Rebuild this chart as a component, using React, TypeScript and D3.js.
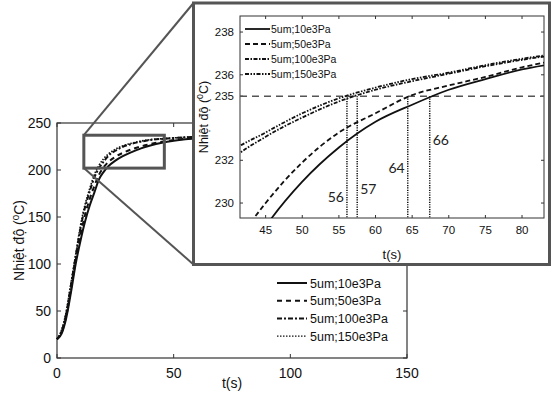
import React from "react";
import * as d3 from "d3";

// time axis (s) shared by all four curves
const times = [0, 2, 4, 6, 8, 10, 12, 14, 16, 18, 20, 22, 25, 28, 32, 36, 40, 45, 50, 55, 60, 65, 70, 75, 80, 85, 100, 120, 150];

// temperature (°C) per pressure case
const temp10e3 = [20, 26, 43, 70, 100, 124, 145, 162, 176, 190, 198, 204, 210, 214.5, 219, 223, 226, 228.9, 231.0, 232.6, 233.8, 234.6, 235.3, 235.8, 236.25, 236.55, 237.2, 237.8, 238.3];
const temp50e3 = [20, 27, 45, 74, 104, 130, 152, 169, 183, 195, 203, 208.5, 214, 218, 222, 225.2, 227.6, 230.0, 231.9, 233.3, 234.2, 235.05, 235.5, 235.9, 236.35, 236.7, 237.4, 238, 238.4];
const temp100e3 = [20, 29, 48, 78, 108, 137, 160, 177, 192, 202, 209, 215, 220.5, 224.5, 227.8, 230.2, 231.9, 233.1, 234.0, 234.75, 235.3, 235.7, 236.05, 236.4, 236.7, 236.95, 237.6, 238.1, 238.5];
const temp150e3 = [20, 30, 50, 80, 110, 140, 163, 180, 195, 205, 212, 217, 222, 225.5, 228.5, 230.8, 232.3, 233.3, 234.2, 234.9, 235.4, 235.8, 236.1, 236.45, 236.75, 237.0, 237.7, 238.2, 238.6];

const seriesNames = ["5um;10e3Pa", "5um;50e3Pa", "5um;100e3Pa", "5um;150e3Pa"];
const seriesValues = [temp10e3, temp50e3, temp100e3, temp150e3];

const mainXTicks = [0, 50, 100, 150];
const mainYTicks = [0, 50, 100, 150, 200, 250];
const insetXTicks = [45, 50, 55, 60, 65, 70, 75, 80];
const insetYTicks = [230, 232, 235, 236, 238];

// 235 °C crossing times and their annotations
const targetTemp = 235;
const crossTimes = [56.1, 57.5, 64.4, 67.4];
const crossLabels = ["56", "57", "64", "66"];
const crossLabelTemps = [230.05, 230.4, 231.4, 232.7];
const crossLabelSide = ["left", "right", "left", "right"];

// zoom box drawn on the main plot
const zoomBoxTime = [11.5, 46];
const zoomBoxTemp = [202, 237];

const FONT = "'Liberation Sans', Arial, sans-serif";
const AXIS = "#333";
const FRAME = "#555";

const mainDash = ["none", "5,4", "5,2,2,2", "1.5,1.5"];
const insetDash = ["none", "5,3", "4,1.5,1.5,1.5", "4,1.5,1.5,1.5,1.5,1.5"];

const Superscript = () => (
  <>
    Nhiệt độ (<tspan baselineShift="super" fontSize="0.7em">0</tspan>C)
  </>
);

export default function App() {
  const x = d3.scaleLinear().domain([0, 150]).range([57, 407]);
  const y = d3.scaleLinear().domain([0, 250]).range([358, 123]);

  const ix = d3.scaleLinear().domain([41.5, 83]).range([240, 544]);
  const iy = d3.scaleLinear().domain([229.3, 238.75]).range([218, 16]);

  const mainLine = (vals: number[]) =>
    d3.line<number>().x((_, i) => x(times[i])).y(d => y(d)).curve(d3.curveMonotoneX)(vals) || "";
  const insetLine = (vals: number[]) =>
    d3.line<number>().x((_, i) => ix(times[i])).y(d => iy(d)).curve(d3.curveMonotoneX)(vals) || "";

  const tick = 4;
  const frame = { x: 193.5, y: 3, w: 356, h: 261.5 };

  return (
    <svg width={552} height={393} style={{ position: "absolute", left: 0, top: 0, background: "#fff" }} fontFamily={FONT}>
      <defs>
        <clipPath id="insetClip">
          <rect x={ix.range()[0]} y={iy.range()[1]} width={ix.range()[1] - ix.range()[0]} height={iy.range()[0] - iy.range()[1]} />
        </clipPath>
      </defs>

      {/* main axes */}
      <rect x={x(0)} y={y(250)} width={x(150) - x(0)} height={y(0) - y(250)} fill="none" stroke={AXIS} strokeWidth={1.2} />
      {mainXTicks.map(t => (
        <g key={"mx" + t}>
          <line x1={x(t)} x2={x(t)} y1={y(0)} y2={y(0) - tick} stroke={AXIS} />
          <line x1={x(t)} x2={x(t)} y1={y(250)} y2={y(250) + tick} stroke={AXIS} />
          <text x={x(t)} y={378} fontSize={14} textAnchor="middle" fill="#111">{t}</text>
        </g>
      ))}
      {mainYTicks.map(v => (
        <g key={"my" + v}>
          <line x1={x(0)} x2={x(0) + tick} y1={y(v)} y2={y(v)} stroke={AXIS} />
          <line x1={x(150)} x2={x(150) - tick} y1={y(v)} y2={y(v)} stroke={AXIS} />
          <text x={51} y={y(v) + 5} fontSize={14} textAnchor="end" fill="#111">{v}</text>
        </g>
      ))}
      <text x={(x(0) + x(150)) / 2} y={388} fontSize={14} textAnchor="middle" fill="#111">t(s)</text>
      <text transform={`translate(24,${(y(0) + y(250)) / 2}) rotate(-90)`} fontSize={14} textAnchor="middle" fill="#111">
        <Superscript />
      </text>

      {seriesValues.map((vals, i) => (
        <path key={"m" + i} d={mainLine(vals)} fill="none" stroke="#111" strokeWidth={i === 3 ? 1.6 : 2} strokeDasharray={mainDash[i]} />
      ))}

      {/* zoom box and connectors */}
      <rect x={x(zoomBoxTime[0])} y={y(zoomBoxTemp[1])} width={x(zoomBoxTime[1]) - x(zoomBoxTime[0])} height={y(zoomBoxTemp[0]) - y(zoomBoxTemp[1])} fill="none" stroke={FRAME} strokeWidth={3} />
      <line x1={x(zoomBoxTime[0])} y1={y(zoomBoxTemp[1])} x2={frame.x} y2={frame.y} stroke={FRAME} strokeWidth={2} />
      <line x1={x(zoomBoxTime[0])} y1={y(zoomBoxTemp[0])} x2={frame.x} y2={frame.y + frame.h} stroke={FRAME} strokeWidth={2} />

      {/* main legend */}
      {seriesNames.map((n, i) => (
        <g key={"ml" + n} transform={`translate(277,${283 + i * 17.7})`}>
          <line x1={0} x2={30} y1={0} y2={0} stroke="#111" strokeWidth={i === 3 ? 1.2 : 2} strokeDasharray={mainDash[i]} />
          <text x={33} y={4.5} fontSize={12.5} fill="#111">{n}</text>
        </g>
      ))}

      {/* inset */}
      <rect x={frame.x} y={frame.y} width={frame.w} height={frame.h} fill="#fff" stroke={FRAME} strokeWidth={3} />
      <rect x={ix(41.5)} y={iy(238.75)} width={ix(83) - ix(41.5)} height={iy(229.3) - iy(238.75)} fill="none" stroke={AXIS} strokeWidth={1} />
      {insetXTicks.map(t => (
        <g key={"ix" + t}>
          <line x1={ix(t)} x2={ix(t)} y1={iy.range()[0]} y2={iy.range()[0] - 3} stroke={AXIS} />
          <line x1={ix(t)} x2={ix(t)} y1={iy.range()[1]} y2={iy.range()[1] + 3} stroke={AXIS} />
          <text x={ix(t)} y={234} fontSize={11.5} textAnchor="middle" fill="#111">{t}</text>
        </g>
      ))}
      {insetYTicks.map(v => (
        <g key={"iy" + v}>
          <line x1={ix.range()[0]} x2={ix.range()[0] + 3} y1={iy(v)} y2={iy(v)} stroke={AXIS} />
          <line x1={ix.range()[1]} x2={ix.range()[1] - 3} y1={iy(v)} y2={iy(v)} stroke={AXIS} />
          <text x={234} y={iy(v) + 4} fontSize={11.5} textAnchor="end" fill="#111">{v}</text>
        </g>
      ))}
      <text x={(ix.range()[0] + ix.range()[1]) / 2} y={259} fontSize={13} textAnchor="middle" fill="#111">t(s)</text>
      <text transform={`translate(208,${(iy.range()[0] + iy.range()[1]) / 2}) rotate(-90)`} fontSize={12.5} textAnchor="middle" fill="#111">
        <Superscript />
      </text>

      <g clipPath="url(#insetClip)">
        <line x1={ix.range()[0]} x2={ix.range()[1]} y1={iy(targetTemp)} y2={iy(targetTemp)} stroke={FRAME} strokeWidth={1.5} strokeDasharray="7,5" />
        {crossTimes.map((t, i) => (
          <line key={"v" + i} x1={ix(t)} x2={ix(t)} y1={iy(targetTemp)} y2={iy.range()[0]} stroke="#111" strokeWidth={1.5} strokeDasharray="1.2,1.2" />
        ))}
        {seriesValues.map((vals, i) => (
          <path key={"i" + i} d={insetLine(vals)} fill="none" stroke="#111" strokeWidth={1.8} strokeDasharray={insetDash[i]} />
        ))}
      </g>
      {crossTimes.map((t, i) => (
        <text key={"cl" + i} x={crossLabelSide[i] === "left" ? ix(t) - 3 : ix(t) + 3} y={iy(crossLabelTemps[i])}
          textAnchor={crossLabelSide[i] === "left" ? "end" : "start"} fontSize={14} fontFamily="Lato, 'Open Sans', sans-serif" fill="#222">
          {crossLabels[i]}
        </text>
      ))}

      {/* inset legend */}
      {seriesNames.map((n, i) => (
        <g key={"il" + n} transform={`translate(245,${29 + i * 15})`}>
          <line x1={0} x2={25} y1={0} y2={0} stroke="#111" strokeWidth={1.8} strokeDasharray={insetDash[i]} />
          <text x={26} y={3.8} fontSize={10.5} fill="#111">{n}</text>
        </g>
      ))}
    </svg>
  );
}
